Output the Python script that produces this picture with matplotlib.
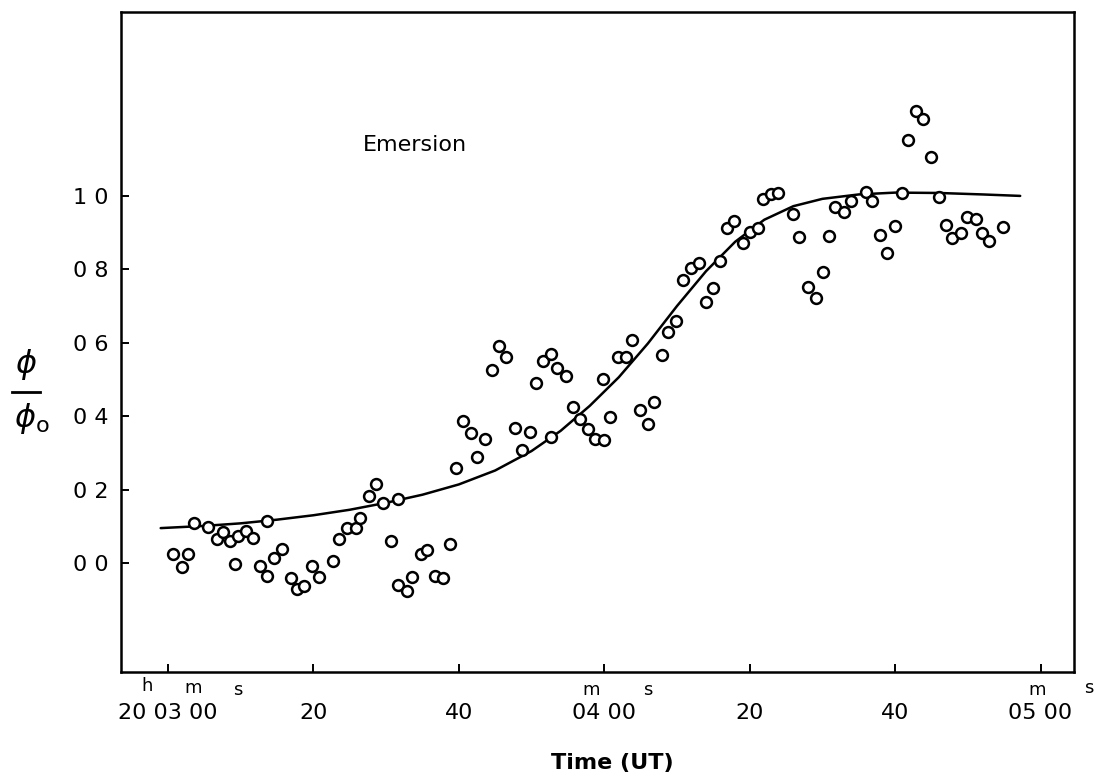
import matplotlib
matplotlib.use("Agg")
import matplotlib.pyplot as plt
from matplotlib.lines import Line2D

# ---- data (seconds after 20h03m00s UT, normalised flux phi/phi0) ----
obs_t = [0.69, 1.93, 2.75, 3.58, 5.50, 6.74, 7.57, 8.53, 9.22, 9.63,
         10.73, 11.69, 12.65, 13.62, 13.62, 14.58, 15.68, 16.92, 17.74, 18.71,
         19.81, 20.77, 22.70, 23.52, 24.62, 25.86, 26.41, 27.65, 28.61, 29.57,
         30.67, 31.64, 31.64, 32.87, 33.56, 34.80, 35.63, 36.73, 37.83, 38.79,
         39.61, 40.58, 41.68, 42.50, 43.60, 44.57, 45.53, 46.49, 47.73, 48.69,
         49.79, 50.62, 51.58, 52.68, 52.68, 53.51, 54.75, 55.71, 56.67, 57.77,
         58.73, 59.84, 59.97, 60.80, 61.90, 63.00, 63.82, 64.92, 66.02, 66.85,
         67.95, 68.78, 69.88, 70.84, 71.94, 73.04, 74.00, 74.97, 75.93, 76.89,
         77.85, 79.09, 80.06, 81.16, 81.84, 82.94, 83.91, 85.97, 86.80, 88.03,
         89.13, 90.10, 90.92, 91.75, 92.98, 93.95, 96.01, 96.84, 97.94, 98.90,
         100.00, 100.96, 101.79, 102.89, 103.85, 104.95, 106.05, 107.02, 107.84, 109.08,
         109.90, 111.14, 111.97, 112.93, 114.86]
obs_v = [0.025, -0.011, 0.025, 0.109, 0.098, 0.065, 0.084, 0.060, -0.003, 0.074,
         0.087, 0.068, -0.008, 0.114, -0.035, 0.014, 0.038, -0.041, -0.071, -0.063,
         -0.008, -0.038, 0.005, 0.065, 0.095, 0.095, 0.123, 0.183, 0.215, 0.163,
         0.060, 0.174, -0.060, -0.076, -0.038, 0.025, 0.035, -0.035, -0.041, 0.052,
         0.259, 0.387, 0.354, 0.289, 0.338, 0.526, 0.591, 0.561, 0.368, 0.308,
         0.357, 0.490, 0.550, 0.569, 0.343, 0.531, 0.510, 0.425, 0.392, 0.365,
         0.338, 0.501, 0.335, 0.398, 0.561, 0.561, 0.608, 0.417, 0.379, 0.439,
         0.567, 0.629, 0.659, 0.771, 0.804, 0.817, 0.711, 0.749, 0.823, 0.913,
         0.932, 0.872, 0.902, 0.913, 0.992, 1.005, 1.008, 0.951, 0.888, 0.752,
         0.722, 0.793, 0.891, 0.970, 0.956, 0.986, 1.011, 0.986, 0.894, 0.845,
         0.918, 1.008, 1.153, 1.232, 1.210, 1.106, 0.997, 0.921, 0.886, 0.899,
         0.943, 0.937, 0.899, 0.877, 0.916]

# fitted model curve
fit_t = [-1, 5, 10, 15, 20, 25, 30, 35, 40, 45, 50, 54, 58, 62, 66, 70,
         74, 78, 82, 86, 90, 95, 100, 106, 112, 117.2]
fit_v = [0.095, 0.101, 0.108, 0.118, 0.130, 0.145, 0.164, 0.186, 0.214,
         0.252, 0.305, 0.360, 0.428, 0.506, 0.598, 0.700, 0.795, 0.875,
         0.935, 0.972, 0.992, 1.004, 1.009, 1.008, 1.004, 1.000]

x_ticks = [0, 20, 40, 60, 80, 100, 120]
x_labels = ["20 03 00", "20", "40", "04 00", "20", "40", "05 00"]
y_ticks = [0.0, 0.2, 0.4, 0.6, 0.8, 1.0]
y_labels = ["0 0", "0 2", "0 4", "0 6", "0 8", "1 0"]
# unit superscripts: (tick value, text, dx px, dy px)
unit_marks = [(0, "h", -21, -14), (0, "m", 25, -16), (0, "s", 70, -18),
              (60, "m", -13, -18), (60, "s", 43, -18),
              (120, "m", -3, -18), (120, "s", 48, -16)]

W, H, DPI = 1096, 775, 100
plt.rcParams['font.family'] = ['DejaVu Sans']
fig = plt.figure(figsize=(W / DPI, H / DPI), dpi=DPI)
ax = fig.add_axes([121 / W, 1 - 672 / H, (1074 - 121) / W, (672 - 12) / H])

ax.plot(fit_t, fit_v, color='black', lw=1.8, solid_capstyle='round',
        solid_joinstyle='round')
ax.plot(obs_t, obs_v, linestyle='none', marker='o', ms=7.8, mew=1.8,
        mfc='white', mec='black')

ax.set_xlim(-6.46, 124.6)
ax.set_ylim(-0.297, 1.501)

for sp in ax.spines.values():
    sp.set_linewidth(1.8)

ax.set_xticks(x_ticks)
ax.set_xticklabels(x_labels)
ax.set_yticks(y_ticks)
ax.set_yticklabels(y_labels)
ax.tick_params(axis='both', direction='in', length=6, width=1.4,
               labelsize=16, colors='black')
ax.tick_params(axis='x', pad=22)
ax.tick_params(axis='y', pad=9)

for tv, txt, dx, dy in unit_marks:
    ax.annotate(txt, xy=(tv, 0), xycoords=('data', 'axes fraction'),
                xytext=(dx * 0.72, dy * 0.72), textcoords='offset points',
                ha='center', va='center', fontsize=13)

ax.text(415 / W, 1 - 145 / H, "Emersion", transform=fig.transFigure,
        ha='center', va='center', fontsize=16)

fig.text(612 / W, 1 - 763 / H, "Time (UT)", ha='center', va='center',
         fontsize=16, fontweight='bold')

# y-axis label: phi / phi_o
fig.text(26 / W, 1 - 364 / H, r"$\phi$", ha='center', va='center', fontsize=23)
fig.add_artist(Line2D([12 / W, 40 / W], [1 - 392 / H, 1 - 392 / H],
                      transform=fig.transFigure, color='black', lw=2))
fig.text(14 / W, 1 - 419 / H, r"$\phi_{\mathrm{o}}$", ha='left', va='center',
         fontsize=23)

fig.savefig("out.png", dpi=DPI, facecolor='white')
